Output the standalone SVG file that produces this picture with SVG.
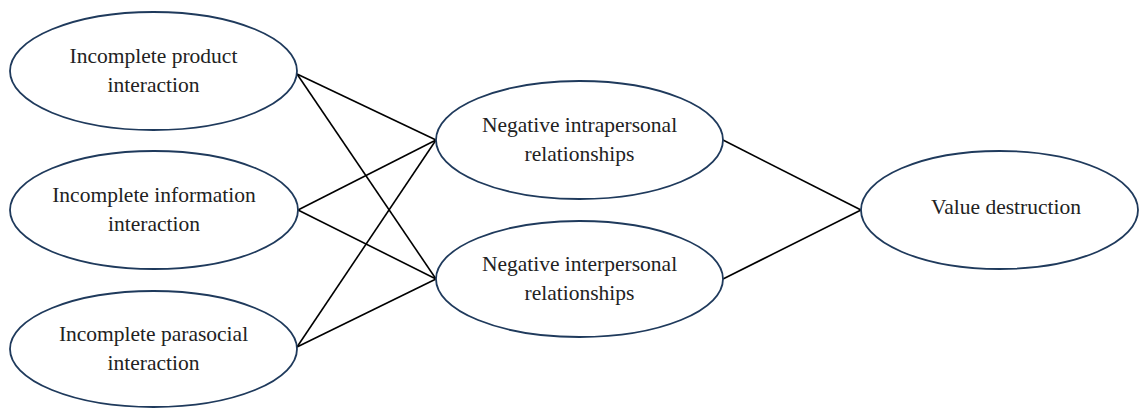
<svg xmlns="http://www.w3.org/2000/svg" width="1139" height="410" viewBox="0 0 1139 410">
<style>
.n{fill:#fff;stroke:#1f3a5c;stroke-width:1.8}
.t{font-family:"Liberation Serif","Times New Roman",serif;font-size:21.5px;fill:#222;text-anchor:middle}
.c line{stroke:#000;stroke-width:1.6}
</style>
<rect width="1139" height="410" fill="#fff"/>
<g class="c" id="connectors">
<line x1="297" y1="74" x2="436" y2="140"/>
<line x1="297" y1="74" x2="436" y2="279"/>
<line x1="298" y1="210" x2="436" y2="140"/>
<line x1="298" y1="210" x2="436" y2="279"/>
<line x1="297" y1="347" x2="436" y2="140"/>
<line x1="297" y1="347" x2="436" y2="279"/>
<line x1="723" y1="140" x2="861" y2="210"/>
<line x1="723" y1="279" x2="861" y2="210"/>
</g>
<g id="n1"><ellipse class="n" cx="153.5" cy="71" rx="143.5" ry="59"/><text class="t" x="153.5" y="63">Incomplete product</text><text class="t" x="153.5" y="92">interaction</text></g>
<g id="n2"><ellipse class="n" cx="154" cy="210" rx="144" ry="59"/><text class="t" x="154" y="202">Incomplete information</text><text class="t" x="154" y="231">interaction</text></g>
<g id="n3"><ellipse class="n" cx="153.5" cy="349" rx="143.5" ry="58"/><text class="t" x="153.5" y="341">Incomplete parasocial</text><text class="t" x="153.5" y="370">interaction</text></g>
<g id="n4"><ellipse class="n" cx="579.5" cy="140" rx="143.5" ry="59"/><text class="t" x="579.5" y="132">Negative intrapersonal</text><text class="t" x="579.5" y="161">relationships</text></g>
<g id="n5"><ellipse class="n" cx="579.5" cy="279" rx="143.5" ry="58"/><text class="t" x="579.5" y="271">Negative interpersonal</text><text class="t" x="579.5" y="300">relationships</text></g>
<g id="n6"><ellipse class="n" cx="999.5" cy="210" rx="138.5" ry="59"/><text class="t" x="1006" y="214">Value destruction</text></g>
</svg>
